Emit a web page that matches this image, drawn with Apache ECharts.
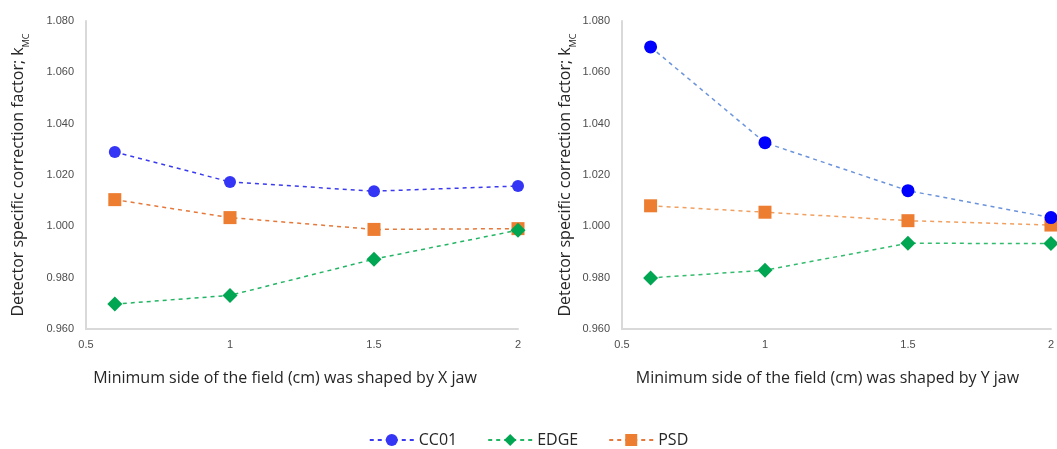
<!DOCTYPE html>
<html>
<head>
    <meta charset="utf-8">
    <title>kMC vs field size</title>
    <script src="https://cdn.jsdelivr.net/npm/echarts@6/dist/echarts.min.js"></script>
    <style>
        html, body { margin: 0; padding: 0; background: #fff; }
    </style>
</head>
<body>
    <div id="main" style="width: 1057px;height:449px;"></div>
    <script type="text/javascript">

// field sizes (cm)
var fieldSizes = [0.6, 1, 1.5, 2];

// shaped by X jaw
var xJawCC01 = [1.029, 1.0173, 1.0137, 1.0157];
var xJawEDGE = [0.9697, 0.9731, 0.9872, 0.9985];
var xJawPSD  = [1.0104, 1.0034, 0.9988, 0.9991];

// shaped by Y jaw
var yJawCC01 = [1.0699, 1.0326, 1.0139, 1.0034];
var yJawEDGE = [0.9799, 0.9829, 0.9934, 0.9933];
var yJawPSD  = [1.0080, 1.0055, 1.0022, 1.0005];

var seriesNames = ['CC01', 'EDGE', 'PSD'];

var myChart = echarts.init(document.getElementById('main'));

function pairs(ys) {
    return fieldSizes.map(function (x, i) { return [x, ys[i]]; });
}

var FONT = '"Open Sans", "Liberation Sans", sans-serif';

function makeX(idx, title, pad) {
    return {
        type: 'value',
        gridIndex: idx,
        min: 0.5, max: 2, interval: 0.5,
        name: title,
        nameLocation: 'middle',
        nameGap: 41,
        nameTextStyle: { fontFamily: FONT, fontSize: 16, color: '#262626', padding: pad },
        axisLine: { lineStyle: { color: '#d9d9d9', width: 2 } },
        axisTick: { show: false },
        splitLine: { show: false },
        axisLabel: {
            fontFamily: '"Liberation Sans", sans-serif', fontSize: 11, color: '#4d4d4d', margin: 10,
            formatter: function (v) { return String(v); }
        }
    };
}

function makeY(idx, gap) {
    return {
        type: 'value',
        gridIndex: idx,
        min: 0.96, max: 1.08, interval: 0.02,
        name: 'Detector specific correction factor; k{sub|MC}',
        nameLocation: 'middle',
        nameGap: gap,
        nameTextStyle: {
            fontFamily: FONT, fontSize: 16, color: '#262626', lineHeight: 19,
            rich: {
                sub: { fontFamily: FONT, fontSize: 9, color: '#262626', verticalAlign: 'bottom', lineHeight: 9, padding: [0, 0, -3, 0] }
            }
        },
        axisLine: { show: true, lineStyle: { color: '#d9d9d9', width: 2 } },
        axisTick: { show: false },
        splitLine: { show: false },
        axisLabel: {
            fontFamily: '"Liberation Sans", sans-serif', fontSize: 11, color: '#4d4d4d', margin: 12,
            formatter: function (v) { return v.toFixed(3); }
        }
    };
}

function line(name, gi, ys, symbol, size, markColor, lineColor) {
    return {
        name: name,
        type: 'line',
        xAxisIndex: gi,
        yAxisIndex: gi,
        data: pairs(ys),
        symbol: symbol,
        symbolSize: size,
        itemStyle: { color: markColor },
        lineStyle: { color: lineColor, width: 1.5, type: [4, 4] },
        z: name === 'CC01' ? 4 : (name === 'EDGE' ? 3 : 2)
    };
}

var option = {
    animation: false,
    grid: [
        { left: 86, right: 539, top: 21, bottom: 120 },
        { left: 622, right: 5, top: 21, bottom: 120 }
    ],
    xAxis: [
        makeX(0, 'Minimum side of the field (cm) was shaped by X jaw', [0, 34, 0, 0]),
        makeX(1, 'Minimum side of the field (cm) was shaped by Y jaw', [0, 18, 0, 0])
    ],
    yAxis: [makeY(0, 58), makeY(1, 47)],
    legend: {
        data: seriesNames,
        left: 'center',
        top: 427,
        itemWidth: 44,
        itemHeight: 15,
        itemGap: 30,
        textStyle: { fontFamily: FONT, fontSize: 16, color: '#262626' }
    },
    series: [
        line('CC01', 0, xJawCC01, 'circle', 12, '#3535f5', '#3a3af0'),
        line('EDGE', 0, xJawEDGE, 'diamond', 15, '#00a651', '#22b564'),
        line('PSD', 0, xJawPSD, 'rect', 13, '#ed7d31', '#e5783a'),
        line('CC01', 1, yJawCC01, 'circle', 13, '#0000ff', '#6a93dc'),
        line('EDGE', 1, yJawEDGE, 'diamond', 15, '#00a651', '#33bb6e'),
        line('PSD', 1, yJawPSD, 'rect', 13, '#ed7d31', '#f0a060')
    ]
};

myChart.setOption(option);
    </script>
</body>
</html>
